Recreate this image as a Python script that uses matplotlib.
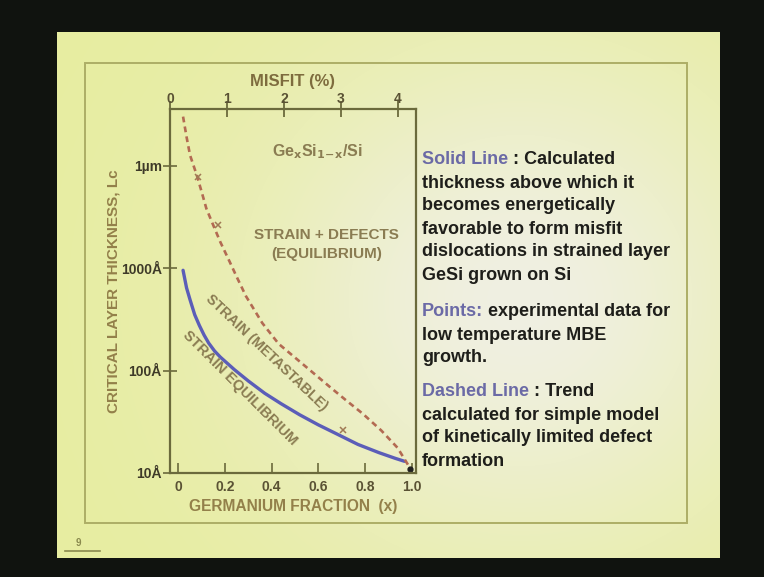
import numpy as np
import matplotlib
matplotlib.use("Agg")
import matplotlib.pyplot as plt
from matplotlib.patches import Rectangle
from matplotlib.ticker import NullLocator

plt.rcParams['font.family'] = ['Liberation Sans', 'DejaVu Sans']
plt.rcParams['font.weight'] = 'bold'
plt.rcParams['axes.labelweight'] = 'bold'
plt.rcParams['mathtext.default'] = 'bf'

# solid line: calculated equilibrium critical thickness (Angstrom) vs Ge fraction
solid_x = [0.02, 0.035, 0.05, 0.07, 0.09, 0.11, 0.13, 0.155, 0.18, 0.24, 0.30, 0.37,
           0.44, 0.52, 0.60, 0.68, 0.77, 0.86, 0.93, 0.97]
solid_y = [950, 640, 490, 350, 275, 222, 185, 155, 135, 102, 79, 60,
           47.5, 37, 29.5, 24, 19, 15.8, 13.9, 13]

# dashed line: kinetically limited defect formation trend
dashed_x = [0.02, 0.035, 0.05, 0.08, 0.10, 0.12, 0.15, 0.18, 0.22, 0.25, 0.29,
            0.36, 0.43, 0.51, 0.58, 0.65, 0.72, 0.79, 0.87, 0.94, 0.99]
dashed_y = [30000, 19000, 12600, 7900, 5500, 3800, 2600, 1790, 1150, 820, 530,
            290, 182, 128, 94, 69, 51, 38, 26, 17.6, 11.5]

# experimental points (low temperature MBE)
pts_x = [0.086, 0.171, 0.707, 0.995]
pts_y = [7800, 2600, 26, 11]

x_ticks = [0, 0.2, 0.4, 0.6, 0.8, 1.0]
x_labels = ['0', '0.2', '0.4', '0.6', '0.8', '1.0']
y_ticks = [10, 100, 1000, 10000]
y_labels = ['10Å', '100Å', '1000Å', '1µm']
misfit_ticks = [0, 1, 2, 3, 4]

notes = [
    ("Solid Line", " : Calculated"),
    (None, "thickness above which it"),
    (None, "becomes energetically"),
    (None, "favorable to form misfit"),
    (None, "dislocations in strained layer"),
    (None, "GeSi grown on Si"),
    ("Points:", " experimental data for"),
    (None, "low temperature MBE"),
    (None, "growth."),
    ("Dashed Line", " : Trend"),
    (None, "calculated for simple model"),
    (None, "of kinetically limited defect"),
    (None, "formation"),
]
note_y = [160, 183, 206, 229, 252, 275, 312, 335, 358, 392, 415, 438, 461]

W, H = 764, 577
fig = plt.figure(figsize=(W / 100, H / 100), dpi=100, facecolor='#101310')

# slide background
bg = fig.add_axes([0, 0, 1, 1])
bg.set_xlim(0, W)
bg.set_ylim(H, 0)
bg.axis('off')
yy, xx = np.mgrid[0:H, 0:W]
img = np.empty((H, W, 3))
img[:] = np.array([16, 19, 15]) / 255
yellow = np.array([231, 237, 160]) / 255
white = np.array([240, 240, 226]) / 255
w = np.exp(-(((xx - 520) / 270.0) ** 2 + ((yy - 300) / 260.0) ** 2))[..., None]
grad = yellow * (1 - w) + white * w
inside = (xx >= 57) & (xx <= 719) & (yy >= 32) & (yy <= 557)
img[inside] = grad[inside]
bg.imshow(img, extent=(0, W, H, 0), aspect='auto', interpolation='bilinear')
bg.add_patch(Rectangle((85, 63), 602, 460, fill=False, edgecolor='#adae66', lw=1.4))
bg.text(78, 543, '9', fontsize=7, color='#8a8a4e', ha='center', va='center')
bg.plot([65, 100], [551, 551], color='#8a8a4e', lw=1.2)

# right-hand notes
for (head, rest), y in zip(notes, note_y):
    if head is None:
        bg.text(422, y, rest, fontsize=13, color='#1e1e1a', va='center', ha='left')
    else:
        t = bg.text(422, y, head, fontsize=13, color='#6b6aa6', va='center', ha='left')
        bg.annotate(rest, xy=(1, 0), xycoords=t, fontsize=13, color='#1e1e1a',
                    va='bottom', ha='left')

# main chart
spine_c = '#6b6a3c'
ax = fig.add_axes([170 / W, 1 - 473 / H, 246 / W, (473 - 108.5) / H])
ax.patch.set_alpha(0)
ax.set_yscale('log')
ax.set_xlim(-0.036, 1.019)
ax.set_ylim(10, 36000)

ax.plot(solid_x, solid_y, color='#5b5db8', lw=2.4, solid_capstyle='round')
ax.plot(dashed_x, dashed_y, color='#b36a52', lw=1.9, dashes=(2.2, 1.6))
ax.plot(pts_x[:-1], pts_y[:-1], 'x', color='#a07a55', ms=4, mew=1.1)
ax.plot(pts_x[-1:], pts_y[-1:], 'o', color='#202020', ms=3.5)

ax.set_xticks(x_ticks)
ax.set_xticklabels(x_labels)
ax.set_yticks(y_ticks)
ax.set_yticklabels(y_labels)
ax.yaxis.set_minor_locator(NullLocator())
ax.tick_params(axis='x', direction='in', length=7, width=1.2, color=spine_c,
               labelsize=10, labelcolor='#5a5234', pad=5)
ax.tick_params(axis='y', direction='inout', length=10, width=1.2, color=spine_c,
               labelsize=10, labelcolor='#3e3a28', pad=1)
for s in ax.spines.values():
    s.set_color(spine_c)
    s.set_linewidth(1.6)

ax.set_xlabel('GERMANIUM FRACTION  (x)', fontsize=11.2, color='#93804a', labelpad=4)
ax.set_ylabel('CRITICAL LAYER THICKNESS, Lc', fontsize=11, color='#93804a', labelpad=0)

top = ax.twiny()
top.set_xlim(0, 4.32)
top.set_xticks(misfit_ticks)
top.tick_params(axis='x', direction='inout', length=12, width=1.3, color=spine_c,
                labelsize=10, labelcolor='#5a5234', pad=-4)
top.set_xlabel('MISFIT (%)', fontsize=12, color='#7e6c3e', labelpad=4)
for s in top.spines.values():
    s.set_visible(False)

ann_c = '#8a7c52'
ax.text(0.595, 13800, r'Ge$_{x}$Si$_{1\!-\!x}$/Si', fontsize=11.5,
        color=ann_c, ha='center', va='center')
ax.text(0.636, 2090, 'STRAIN + DEFECTS', fontsize=11, color=ann_c, ha='center', va='center')
ax.text(0.636, 1370, '(EQUILIBRIUM)', fontsize=11, color=ann_c, ha='center', va='center')
ax.text(0.38, 150, 'STRAIN (METASTABLE)', fontsize=10.3, color=ann_c, rotation=-43.5,
        ha='center', va='center', rotation_mode='anchor')
ax.text(0.265, 68, 'STRAIN EQUILIBRIUM', fontsize=10.5, color=ann_c, rotation=-45,
        ha='center', va='center', rotation_mode='anchor')

fig.savefig('out.png', dpi=100, facecolor=fig.get_facecolor())
